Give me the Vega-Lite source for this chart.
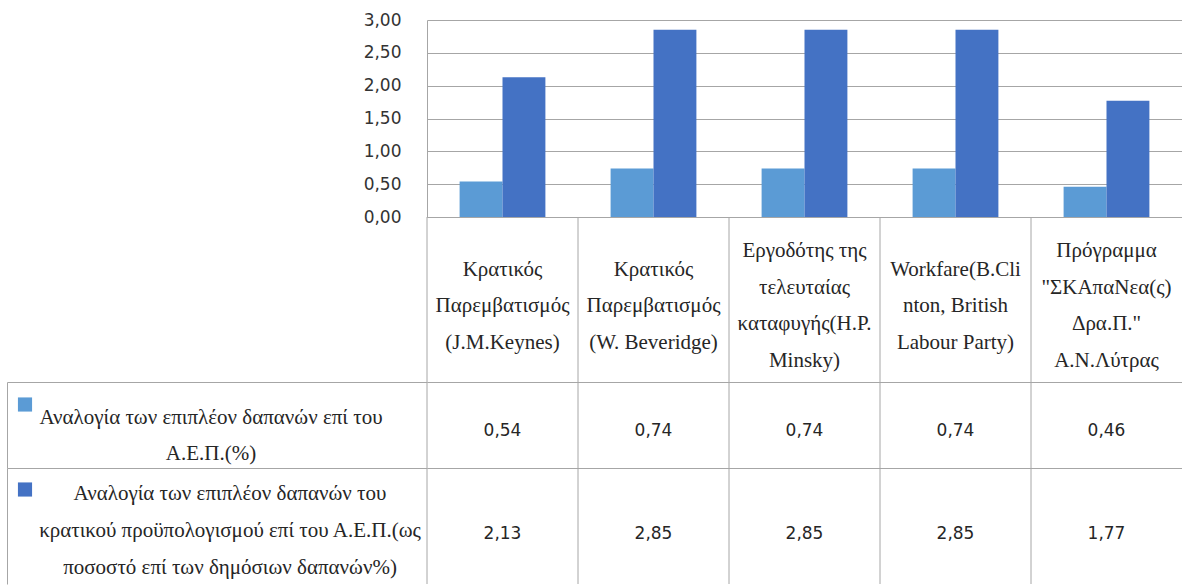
{
  "$schema": "https://vega.github.io/schema/vega-lite/v6.json",
  "padding": {"left": 7, "top": 11, "right": 0, "bottom": 0},
  "background": "white",
  "columns": 2,
  "spacing": 0,
  "bounds": "flush",
  "datasets": {
    "main": [
      {"category": "Κρατικός|Παρεμβατισμός|(J.M.Keynes)", "series": "Αναλογία των επιπλέον δαπανών επί του|Α.Ε.Π.(%)", "value": 0.54},
      {"category": "Κρατικός|Παρεμβατισμός|(J.M.Keynes)", "series": "Αναλογία των επιπλέον δαπανών του|κρατικού προϋπολογισμού επί του Α.Ε.Π.(ως|ποσοστό επί των δημόσιων δαπανών%)", "value": 2.13},
      {"category": "Κρατικός|Παρεμβατισμός|(W. Beveridge)", "series": "Αναλογία των επιπλέον δαπανών επί του|Α.Ε.Π.(%)", "value": 0.74},
      {"category": "Κρατικός|Παρεμβατισμός|(W. Beveridge)", "series": "Αναλογία των επιπλέον δαπανών του|κρατικού προϋπολογισμού επί του Α.Ε.Π.(ως|ποσοστό επί των δημόσιων δαπανών%)", "value": 2.85},
      {"category": "Εργοδότης της|τελευταίας|καταφυγής(H.P.|Minsky)", "series": "Αναλογία των επιπλέον δαπανών επί του|Α.Ε.Π.(%)", "value": 0.74},
      {"category": "Εργοδότης της|τελευταίας|καταφυγής(H.P.|Minsky)", "series": "Αναλογία των επιπλέον δαπανών του|κρατικού προϋπολογισμού επί του Α.Ε.Π.(ως|ποσοστό επί των δημόσιων δαπανών%)", "value": 2.85},
      {"category": "Workfare(B.Cli|nton, British|Labour Party)", "series": "Αναλογία των επιπλέον δαπανών επί του|Α.Ε.Π.(%)", "value": 0.74},
      {"category": "Workfare(B.Cli|nton, British|Labour Party)", "series": "Αναλογία των επιπλέον δαπανών του|κρατικού προϋπολογισμού επί του Α.Ε.Π.(ως|ποσοστό επί των δημόσιων δαπανών%)", "value": 2.85},
      {"category": "Πρόγραμμα|\"ΣΚΑπαΝεα(ς)|Δρα.Π.\"|Α.Ν.Λύτρας", "series": "Αναλογία των επιπλέον δαπανών επί του|Α.Ε.Π.(%)", "value": 0.46},
      {"category": "Πρόγραμμα|\"ΣΚΑπαΝεα(ς)|Δρα.Π.\"|Α.Ν.Λύτρας", "series": "Αναλογία των επιπλέον δαπανών του|κρατικού προϋπολογισμού επί του Α.Ε.Π.(ως|ποσοστό επί των δημόσιων δαπανών%)", "value": 1.77}
    ]
  },
  "concat": [
    {
      "width": 420, "height": 197,
      "data": {"values": [{}]},
      "mark": {"type": "text"},
      "encoding": {"text": {"value": ""}}
    },
    {
      "width": 755, "height": 197,
      "data": {"name": "main"},
      "mark": {"type": "bar"},
      "encoding": {
        "x": {"field": "category", "type": "nominal", "sort": null,
              "scale": {"paddingInner": 0, "paddingOuter": 0},
              "axis": {"title": null, "labels": false, "ticks": false, "domain": true, "grid": false}},
        "xOffset": {"field": "series", "type": "nominal", "sort": null,
                    "scale": {"paddingInner": 0, "paddingOuter": 0.76}},
        "y": {"field": "value", "type": "quantitative",
              "scale": {"domain": [0, 3], "nice": false},
              "axis": {"title": null, "values": [0, 0.5, 1, 1.5, 2, 2.5, 3], "format": ".2f",
                       "grid": true, "ticks": false, "domain": true,
                       "labelFont": "DejaVu Sans", "labelFontSize": 17, "labelColor": "#333333",
                       "labelPadding": 26}},
        "color": {"field": "series", "type": "nominal", "sort": null,
                  "scale": {"domain": ["Αναλογία των επιπλέον δαπανών επί του|Α.Ε.Π.(%)", "Αναλογία των επιπλέον δαπανών του|κρατικού προϋπολογισμού επί του Α.Ε.Π.(ως|ποσοστό επί των δημόσιων δαπανών%)"],
                            "range": ["#5B9BD5", "#4472C4"]},
                  "legend": null}
      }
    },
    {
      "width": 420, "height": 165,
      "data": {"values": [{}]},
      "mark": {"type": "text"},
      "encoding": {"text": {"value": ""}}
    },
    {
      "width": 755, "height": 165,
      "data": {"name": "main"},
      "transform": [{"filter": {"field": "series", "equal": "Αναλογία των επιπλέον δαπανών επί του|Α.Ε.Π.(%)"}}],
      "encoding": {
        "x": {"field": "category", "type": "nominal", "sort": null,
              "scale": {"paddingInner": 0, "paddingOuter": 0},
              "axis": {"orient": "top", "title": null, "labels": false, "ticks": false, "domain": true, "grid": false}}
      },
      "layer": [
        {
          "mark": {"type": "rule", "color": "#a6a6a6", "strokeWidth": 1},
          "encoding": {"x": {"field": "category", "type": "nominal", "sort": null, "bandPosition": 0}}
        },
        {
          "transform": [{"filter": "length(split(datum.category, '|')) == 3"}],
          "mark": {"type": "text", "lineBreak": "|", "font": "Liberation Serif", "fontSize": 21, "lineHeight": 36.5, "color": "#262626", "baseline": "middle", "dy": -30},
          "encoding": {"text": {"field": "category"}}
        },
        {
          "transform": [{"filter": "length(split(datum.category, '|')) == 4"}],
          "mark": {"type": "text", "lineBreak": "|", "font": "Liberation Serif", "fontSize": 21, "lineHeight": 36.5, "color": "#262626", "baseline": "middle", "dy": -48.5},
          "encoding": {"text": {"field": "category"}}
        }
      ]
    },
    {
      "width": 420, "height": 86,
      "data": {"values": [{"series": "Αναλογία των επιπλέον δαπανών επί του|Α.Ε.Π.(%)"}]},
      "layer": [
        {
          "mark": {"type": "square", "size": 200, "filled": true, "opacity": 1, "xOffset": 18, "yOffset": 22.5},
          "encoding": {
            "x": {"field": "series", "type": "nominal", "scale": {"type": "point", "padding": 0, "align": 0},
                  "axis": {"orient": "top", "title": null, "labels": false, "ticks": false, "domain": true, "grid": false}},
            "y": {"field": "series", "type": "nominal", "scale": {"type": "point", "padding": 0, "align": 0},
                  "axis": {"orient": "left", "title": null, "labels": false, "ticks": false, "domain": true, "grid": false}},
            "color": {"field": "series", "type": "nominal", "legend": null}
          }
        },
        {
          "mark": {"type": "text", "lineBreak": "|", "font": "Liberation Serif", "fontSize": 21, "lineHeight": 36, "color": "#262626", "baseline": "middle", "dx": -6, "dy": -7},
          "encoding": {"text": {"field": "series"}}
        }
      ]
    },
    {
      "width": 755, "height": 86,
      "data": {"name": "main"},
      "transform": [{"filter": {"field": "series", "equal": "Αναλογία των επιπλέον δαπανών επί του|Α.Ε.Π.(%)"}}],
      "encoding": {
        "x": {"field": "category", "type": "nominal", "sort": null,
              "scale": {"paddingInner": 0, "paddingOuter": 0},
              "axis": {"orient": "top", "title": null, "labels": false, "ticks": false, "domain": true, "grid": false}}
      },
      "layer": [
        {
          "mark": {"type": "rule", "color": "#a6a6a6", "strokeWidth": 1},
          "encoding": {"x": {"field": "category", "type": "nominal", "sort": null, "bandPosition": 0}}
        },
        {
          "mark": {"type": "text", "font": "DejaVu Sans", "fontSize": 17, "color": "#262626", "baseline": "middle", "dy": 6},
          "encoding": {"text": {"field": "value", "type": "quantitative", "format": ".2f"}}
        }
      ]
    },
    {
      "width": 420, "height": 116,
      "data": {"values": [{"series": "Αναλογία των επιπλέον δαπανών του|κρατικού προϋπολογισμού επί του Α.Ε.Π.(ως|ποσοστό επί των δημόσιων δαπανών%)"}]},
      "layer": [
        {
          "mark": {"type": "square", "size": 200, "filled": true, "opacity": 1, "xOffset": 18, "yOffset": 21.5},
          "encoding": {
            "x": {"field": "series", "type": "nominal", "scale": {"type": "point", "padding": 0, "align": 0},
                  "axis": {"orient": "top", "title": null, "labels": false, "ticks": false, "domain": true, "grid": false}},
            "y": {"field": "series", "type": "nominal", "scale": {"type": "point", "padding": 0, "align": 0},
                  "axis": {"orient": "left", "title": null, "labels": false, "ticks": false, "domain": true, "grid": false}},
            "color": {"field": "series", "type": "nominal", "legend": null}
          }
        },
        {
          "mark": {"type": "text", "lineBreak": "|", "font": "Liberation Serif", "fontSize": 21, "lineHeight": 37, "color": "#262626", "baseline": "middle", "dx": 13, "dy": -32},
          "encoding": {"text": {"field": "series"}}
        }
      ]
    },
    {
      "width": 755, "height": 116,
      "data": {"name": "main"},
      "transform": [{"filter": {"field": "series", "equal": "Αναλογία των επιπλέον δαπανών του|κρατικού προϋπολογισμού επί του Α.Ε.Π.(ως|ποσοστό επί των δημόσιων δαπανών%)"}}],
      "encoding": {
        "x": {"field": "category", "type": "nominal", "sort": null,
              "scale": {"paddingInner": 0, "paddingOuter": 0},
              "axis": {"orient": "top", "title": null, "labels": false, "ticks": false, "domain": true, "grid": false}}
      },
      "layer": [
        {
          "mark": {"type": "rule", "color": "#a6a6a6", "strokeWidth": 1},
          "encoding": {"x": {"field": "category", "type": "nominal", "sort": null, "bandPosition": 0}}
        },
        {
          "mark": {"type": "text", "font": "DejaVu Sans", "fontSize": 17, "color": "#262626", "baseline": "middle", "dy": 8},
          "encoding": {"text": {"field": "value", "type": "quantitative", "format": ".2f"}}
        }
      ]
    }
  ],
  "config": {
    "locale": {"number": {"decimal": ",", "thousands": ".", "grouping": [3], "currency": ["", " €"]}},
    "view": {"stroke": null},
    "axis": {"domainColor": "#a6a6a6", "gridColor": "#a6a6a6", "domainWidth": 1, "gridWidth": 1}
  }
}
